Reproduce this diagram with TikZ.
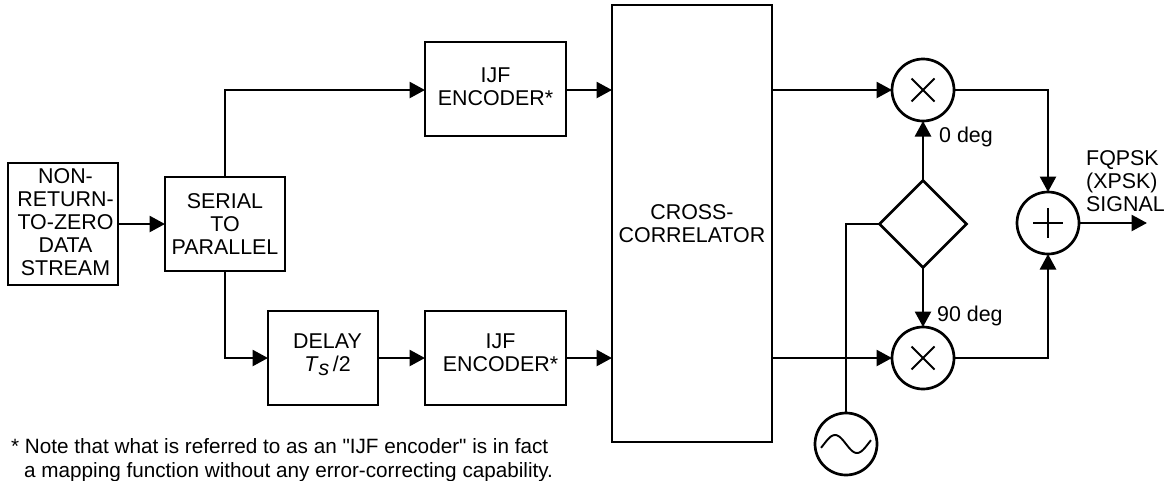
\documentclass[tikz,border=0pt]{standalone}
\usepackage{fontspec}
\setmainfont{Liberation Sans}[Ligatures=TeXOff]
\usetikzlibrary{arrows.meta, shapes.geometric}
\newcommand{\pushr}[1]{\hspace*{#1pt}}
\tikzset{
  blockbox/.style={draw, line width=2.7pt, align=center, inner sep=0pt, outer sep=0pt},
  mixnode/.style={draw, circle, line width=2.7pt, minimum size=62pt, inner sep=0pt, outer sep=0pt},
  link/.style={line width=2.7pt, -{Triangle[length=15.5pt, width=16pt]}},
  plainlink/.style={line width=2.7pt},
  sign/.style={line width=1.9pt},
  every node/.append style={font=\fontsize{21.4}{23}\selectfont}
}

\begin{document}
\begin{tikzpicture}[x=1pt, y=-1pt]
\useasboundingbox (0, 0) rectangle (1169, 480);
\node[blockbox, minimum width=110pt, minimum height=122pt, text depth=4pt] (nrz) at (63, 224) {\pushr{5}NON-\\\pushr{5}RETURN-\\\pushr{5}TO-ZERO\\\pushr{5}DATA\\\pushr{5}STREAM};
\node[blockbox, minimum width=120pt, minimum height=94pt] (serial) at (225, 224) {SERIAL\\TO\\PARALLEL};
\node[blockbox, minimum width=110pt, minimum height=94pt, text depth=11pt] (delay) at (323, 358) {\pushr{9}DELAY\\\pushr{9}\textit{T}\raisebox{-4pt}{\textit{s}}\,/2};
\node[blockbox, minimum width=141pt, minimum height=94pt, text depth=5pt] (encup) at (495.5, 89) {IJF\\ENCODER*};
\node[blockbox, minimum width=141pt, minimum height=94pt, text depth=11pt] (enclow) at (495.5, 358) {\pushr{10}IJF\\\pushr{10}ENCODER*};
\node[blockbox, minimum width=160pt, minimum height=437pt] (corr) at (692, 223.5) {CROSS-\\CORRELATOR};
\node[mixnode] (mixup) at (923, 90) {};
\node[mixnode] (mixlow) at (923, 358) {};
\node[mixnode] (adder) at (1048, 223) {};
\node[mixnode] (osc) at (846, 444) {};
\node[draw, diamond, aspect=1, line width=2.7pt, minimum width=87pt, minimum height=87pt, inner sep=0pt, outer sep=0pt] (split) at (923, 224) {};
\coordinate (out) at (1147, 223);
% signs inside the circles
\foreach \m in {mixup, mixlow} {
  \draw[sign] (\m.center) ++(-11.5, -11.5) -- ++(23, 23);
  \draw[sign] (\m.center) ++(-11.5, 11.5) -- ++(23, -23);
}
\draw[sign] (adder.center) ++(-15, 0) -- ++(30, 0);
\draw[sign] (adder.center) ++(0, -15) -- ++(0, 30);
\draw[sign, shift={(osc.center)}] plot[domain=-25:25, samples=40, smooth] (\x, {9*sin(8.2*\x)});
% connectors
\draw[link] (nrz) -- (serial);
\draw[link] (serial.north) |- (encup.west |- mixup.west);
\draw[link] (serial.south) |- (delay.west);
\draw[link] (delay) -- (enclow);
\draw[link] (encup.east |- mixup.west) -- (mixup.west -| corr.west);
\draw[link] (enclow.east) -- (enclow.east -| corr.west);
\draw[link] (mixup.west -| corr.east) -- (mixup.west);
\draw[link] (mixlow.west -| corr.east) -- (mixlow.west);
\draw[link] (split.north) -- (mixup.south);
\draw[link] (split.south) -- (mixlow.north);
\draw[plainlink] (osc.north) |- (split.west);
\draw[link] (mixup.east) -| (adder.north);
\draw[link] (mixlow.east) -| (adder.south);
\draw[link] (adder.east) -- (out);
% labels
\node[anchor=west, inner sep=0pt] (lzero) at (939, 137) {0 deg};
\node[anchor=west, inner sep=0pt] (lninety) at (937, 316) {90 deg};
\node[anchor=north west, inner sep=0pt, align=left] (lout) at (1086, 150) {FQPSK\\(XPSK)\\SIGNAL};
\node[anchor=north west, inner sep=0pt, align=left, font=\fontsize{20.7}{24.5}\selectfont] (note) at (11, 438) {* Note that what is referred to as an "IJF encoder" is in fact\\\hspace*{13pt}a mapping function without any error-correcting capability.};
\end{tikzpicture}
\end{document}
